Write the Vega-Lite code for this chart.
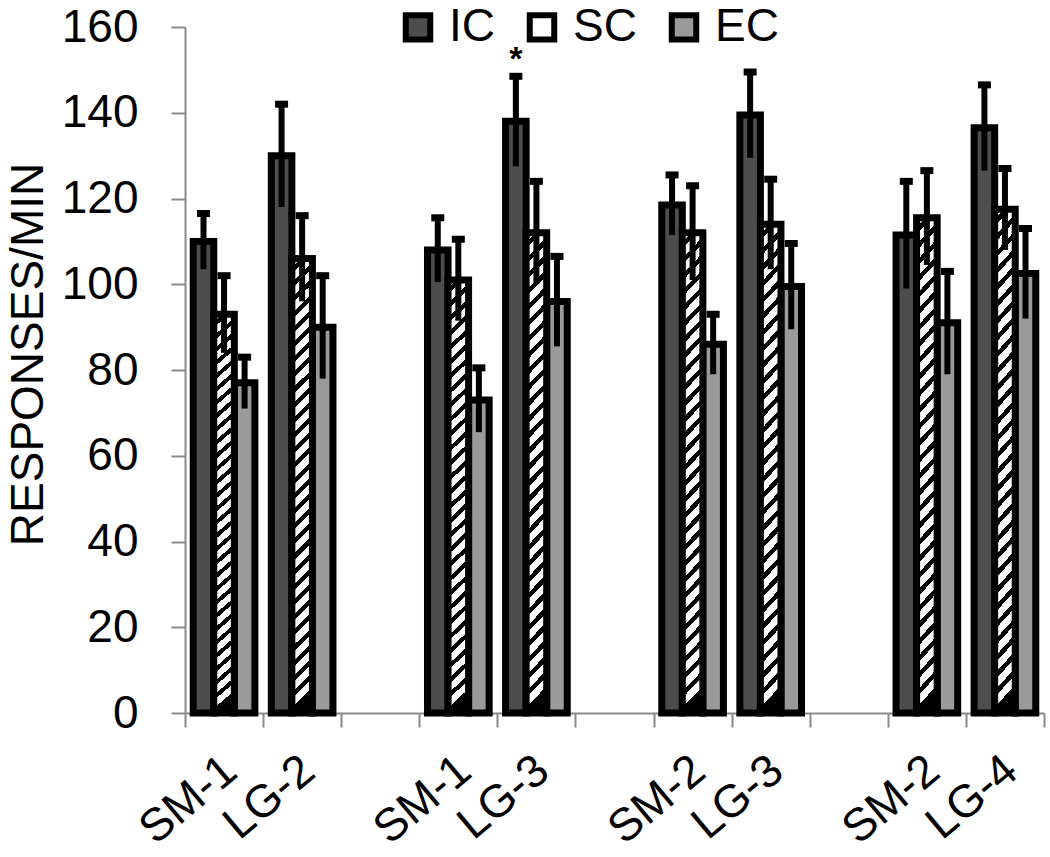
{
  "$schema": "https://vega.github.io/schema/vega-lite/v6.json",
  "autosize": {"type": "none"},
  "padding": {"left": 185, "top": 27, "right": 6, "bottom": 144},
  "width": 859,
  "height": 686,
  "background": "white",
  "config": {
    "font": "Liberation Sans",
    "view": {"stroke": null},
    "axis": {"grid": false, "domainColor": "#8a8a8a", "tickColor": "#8a8a8a", "domainWidth": 2, "tickWidth": 2, "labelColor": "black", "titleColor": "black", "labelFontSize": 46, "titleFontSize": 46, "titleFontWeight": "normal", "labelFont": "Liberation Sans", "titleFont": "Liberation Sans"},
    "legend": {"labelFont": "Liberation Sans", "labelFontSize": 46, "labelColor": "black"}
  },
  "data": {"values": [
    {"slot": "SM-1#1", "group": "IC", "mean": 110, "lo": 103.5, "hi": 116.5, "sig": ""},
    {"slot": "SM-1#1", "group": "SC", "mean": 93, "lo": 84, "hi": 102, "sig": ""},
    {"slot": "SM-1#1", "group": "EC", "mean": 77, "lo": 71, "hi": 83, "sig": ""},
    {"slot": "LG-2#1", "group": "IC", "mean": 130, "lo": 118, "hi": 142, "sig": ""},
    {"slot": "LG-2#1", "group": "SC", "mean": 106, "lo": 96, "hi": 116, "sig": ""},
    {"slot": "LG-2#1", "group": "EC", "mean": 90, "lo": 78, "hi": 102, "sig": ""},
    {"slot": "SM-1#2", "group": "IC", "mean": 108, "lo": 100.5, "hi": 115.5, "sig": ""},
    {"slot": "SM-1#2", "group": "SC", "mean": 101, "lo": 91.5, "hi": 110.5, "sig": ""},
    {"slot": "SM-1#2", "group": "EC", "mean": 73, "lo": 65.5, "hi": 80.5, "sig": ""},
    {"slot": "LG-3#1", "group": "IC", "mean": 138, "lo": 127.5, "hi": 148.5, "sig": "*"},
    {"slot": "LG-3#1", "group": "SC", "mean": 112, "lo": 100, "hi": 124, "sig": ""},
    {"slot": "LG-3#1", "group": "EC", "mean": 96, "lo": 85.5, "hi": 106.5, "sig": ""},
    {"slot": "SM-2#1", "group": "IC", "mean": 118.5, "lo": 111.5, "hi": 125.5, "sig": ""},
    {"slot": "SM-2#1", "group": "SC", "mean": 112, "lo": 101, "hi": 123, "sig": ""},
    {"slot": "SM-2#1", "group": "EC", "mean": 86, "lo": 79, "hi": 93, "sig": ""},
    {"slot": "LG-3#2", "group": "IC", "mean": 139.5, "lo": 129.5, "hi": 149.5, "sig": ""},
    {"slot": "LG-3#2", "group": "SC", "mean": 114, "lo": 103.5, "hi": 124.5, "sig": ""},
    {"slot": "LG-3#2", "group": "EC", "mean": 99.5, "lo": 89.5, "hi": 109.5, "sig": ""},
    {"slot": "SM-2#2", "group": "IC", "mean": 111.5, "lo": 99, "hi": 124, "sig": ""},
    {"slot": "SM-2#2", "group": "SC", "mean": 115.5, "lo": 104.5, "hi": 126.5, "sig": ""},
    {"slot": "SM-2#2", "group": "EC", "mean": 91, "lo": 79, "hi": 103, "sig": ""},
    {"slot": "LG-4#1", "group": "IC", "mean": 136.5, "lo": 126.5, "hi": 146.5, "sig": ""},
    {"slot": "LG-4#1", "group": "SC", "mean": 117.5, "lo": 108, "hi": 127, "sig": ""},
    {"slot": "LG-4#1", "group": "EC", "mean": 102.5, "lo": 92, "hi": 113, "sig": ""}
  ]},
  "encoding": {
    "x": {
      "field": "slot", "type": "nominal",
      "scale": {"domain": ["SM-1#1", "LG-2#1", "gap1", "SM-1#2", "LG-3#1", "gap2", "SM-2#1", "LG-3#2", "gap3", "SM-2#2", "LG-4#1"], "paddingInner": 0, "paddingOuter": 0},
      "axis": {"title": null, "labelAngle": -40, "labelAlign": "right", "labelBaseline": "middle", "labelPadding": 37, "labelOffset": 6, "tickSize": 14, "tickBand": "extent", "labelExpr": "indexof(datum.label, 'gap') >= 0 ? '' : split(datum.label, '#')[0]"}
    },
    "xOffset": {"field": "group", "type": "nominal", "scale": {"domain": ["IC", "SC", "EC"], "paddingInner": 0, "paddingOuter": 0.4}}
  },
  "layer": [
    {
      "transform": [{"filter": "datum.group != 'SC'"}],
      "mark": {"type": "bar", "stroke": "black", "strokeWidth": 7},
      "encoding": {
        "y": {"field": "mean", "type": "quantitative", "scale": {"domain": [0, 160]}, "axis": {"title": "RESPONSES/MIN", "values": [0, 20, 40, 60, 80, 100, 120, 140, 160], "tickSize": 14, "labelPadding": 33, "titleX": -143, "titleY": 327, "titleBaseline": "alphabetic"}},
        "color": {"field": "group", "type": "nominal", "scale": {"domain": ["IC", "SC", "EC"], "range": ["#4d4d4d", "#ffffff", "#9a9a9a"]},
          "legend": {"title": null, "orient": "none", "legendX": 210, "legendY": -23, "direction": "horizontal", "symbolType": "square", "symbolSize": 600, "symbolStrokeColor": "black", "symbolStrokeWidth": 6, "symbolOpacity": 1, "labelOffset": 8, "columnPadding": 22}}
      }
    },
    {
      "transform": [{"filter": "datum.group == 'SC'"}],
      "mark": {"type": "bar", "stroke": "black", "strokeWidth": 7,
        "fill": {"gradient": "linear", "x1": 0, "y1": 0, "x2": 0.045, "y2": 1, "stops": [
          {"offset": 0, "color": "white"}, {"offset": 0.02, "color": "white"}, {"offset": 0.02, "color": "black"}, {"offset": 0.0333, "color": "black"},
          {"offset": 0.0333, "color": "white"}, {"offset": 0.0533, "color": "white"}, {"offset": 0.0533, "color": "black"}, {"offset": 0.0667, "color": "black"},
          {"offset": 0.0667, "color": "white"}, {"offset": 0.0867, "color": "white"}, {"offset": 0.0867, "color": "black"}, {"offset": 0.1, "color": "black"},
          {"offset": 0.1, "color": "white"}, {"offset": 0.12, "color": "white"}, {"offset": 0.12, "color": "black"}, {"offset": 0.1333, "color": "black"},
          {"offset": 0.1333, "color": "white"}, {"offset": 0.1533, "color": "white"}, {"offset": 0.1533, "color": "black"}, {"offset": 0.1667, "color": "black"},
          {"offset": 0.1667, "color": "white"}, {"offset": 0.1867, "color": "white"}, {"offset": 0.1867, "color": "black"}, {"offset": 0.2, "color": "black"},
          {"offset": 0.2, "color": "white"}, {"offset": 0.22, "color": "white"}, {"offset": 0.22, "color": "black"}, {"offset": 0.2333, "color": "black"},
          {"offset": 0.2333, "color": "white"}, {"offset": 0.2533, "color": "white"}, {"offset": 0.2533, "color": "black"}, {"offset": 0.2667, "color": "black"},
          {"offset": 0.2667, "color": "white"}, {"offset": 0.2867, "color": "white"}, {"offset": 0.2867, "color": "black"}, {"offset": 0.3, "color": "black"},
          {"offset": 0.3, "color": "white"}, {"offset": 0.32, "color": "white"}, {"offset": 0.32, "color": "black"}, {"offset": 0.3333, "color": "black"},
          {"offset": 0.3333, "color": "white"}, {"offset": 0.3533, "color": "white"}, {"offset": 0.3533, "color": "black"}, {"offset": 0.3667, "color": "black"},
          {"offset": 0.3667, "color": "white"}, {"offset": 0.3867, "color": "white"}, {"offset": 0.3867, "color": "black"}, {"offset": 0.4, "color": "black"},
          {"offset": 0.4, "color": "white"}, {"offset": 0.42, "color": "white"}, {"offset": 0.42, "color": "black"}, {"offset": 0.4333, "color": "black"},
          {"offset": 0.4333, "color": "white"}, {"offset": 0.4533, "color": "white"}, {"offset": 0.4533, "color": "black"}, {"offset": 0.4667, "color": "black"},
          {"offset": 0.4667, "color": "white"}, {"offset": 0.4867, "color": "white"}, {"offset": 0.4867, "color": "black"}, {"offset": 0.5, "color": "black"},
          {"offset": 0.5, "color": "white"}, {"offset": 0.52, "color": "white"}, {"offset": 0.52, "color": "black"}, {"offset": 0.5333, "color": "black"},
          {"offset": 0.5333, "color": "white"}, {"offset": 0.5533, "color": "white"}, {"offset": 0.5533, "color": "black"}, {"offset": 0.5667, "color": "black"},
          {"offset": 0.5667, "color": "white"}, {"offset": 0.5867, "color": "white"}, {"offset": 0.5867, "color": "black"}, {"offset": 0.6, "color": "black"},
          {"offset": 0.6, "color": "white"}, {"offset": 0.62, "color": "white"}, {"offset": 0.62, "color": "black"}, {"offset": 0.6333, "color": "black"},
          {"offset": 0.6333, "color": "white"}, {"offset": 0.6533, "color": "white"}, {"offset": 0.6533, "color": "black"}, {"offset": 0.6667, "color": "black"},
          {"offset": 0.6667, "color": "white"}, {"offset": 0.6867, "color": "white"}, {"offset": 0.6867, "color": "black"}, {"offset": 0.7, "color": "black"},
          {"offset": 0.7, "color": "white"}, {"offset": 0.72, "color": "white"}, {"offset": 0.72, "color": "black"}, {"offset": 0.7333, "color": "black"},
          {"offset": 0.7333, "color": "white"}, {"offset": 0.7533, "color": "white"}, {"offset": 0.7533, "color": "black"}, {"offset": 0.7667, "color": "black"},
          {"offset": 0.7667, "color": "white"}, {"offset": 0.7867, "color": "white"}, {"offset": 0.7867, "color": "black"}, {"offset": 0.8, "color": "black"},
          {"offset": 0.8, "color": "white"}, {"offset": 0.82, "color": "white"}, {"offset": 0.82, "color": "black"}, {"offset": 0.8333, "color": "black"},
          {"offset": 0.8333, "color": "white"}, {"offset": 0.8533, "color": "white"}, {"offset": 0.8533, "color": "black"}, {"offset": 0.8667, "color": "black"},
          {"offset": 0.8667, "color": "white"}, {"offset": 0.8867, "color": "white"}, {"offset": 0.8867, "color": "black"}, {"offset": 0.9, "color": "black"},
          {"offset": 0.9, "color": "white"}, {"offset": 0.92, "color": "white"}, {"offset": 0.92, "color": "black"}, {"offset": 0.9333, "color": "black"},
          {"offset": 0.9333, "color": "white"}, {"offset": 0.9533, "color": "white"}, {"offset": 0.9533, "color": "black"}, {"offset": 0.9667, "color": "black"},
          {"offset": 0.9667, "color": "white"}, {"offset": 0.9867, "color": "white"}, {"offset": 0.9867, "color": "black"}, {"offset": 1, "color": "black"}
        ]}},
      "encoding": {
        "y": {"field": "mean", "type": "quantitative"}
      }
    },
    {
      "mark": {"type": "rule", "color": "black", "strokeWidth": 6},
      "encoding": {
        "y": {"field": "lo", "type": "quantitative"},
        "y2": {"field": "hi"}
      }
    },
    {
      "mark": {"type": "tick", "color": "black", "orient": "horizontal", "size": 13, "thickness": 7, "opacity": 1},
      "encoding": {
        "y": {"field": "hi", "type": "quantitative"}
      }
    },
    {
      "mark": {"type": "text", "color": "black", "fontSize": 34, "fontWeight": "bold", "baseline": "alphabetic", "dy": -6, "font": "Liberation Sans"},
      "encoding": {
        "y": {"field": "hi", "type": "quantitative"},
        "text": {"field": "sig"}
      }
    }
  ]
}
